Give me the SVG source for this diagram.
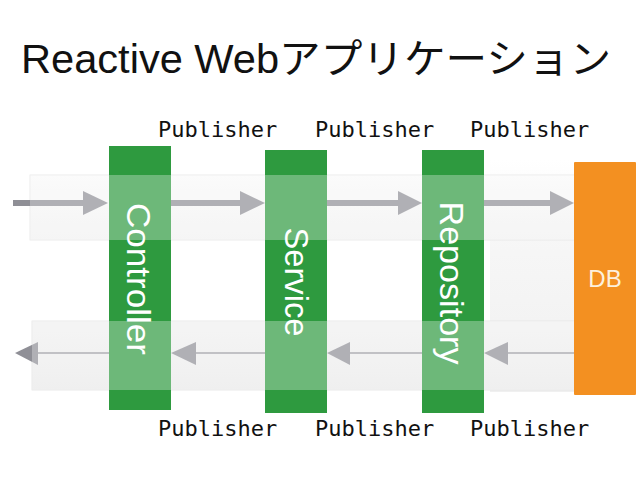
<svg xmlns="http://www.w3.org/2000/svg" width="638" height="479" viewBox="0 0 638 479">
  <defs>
    <linearGradient id="gTop" x1="0" y1="0" x2="0" y2="1">
      <stop offset="0" stop-color="#f9f9f9"/>
      <stop offset="1" stop-color="#f1f1f1"/>
    </linearGradient>
    <linearGradient id="gBot" x1="0" y1="0" x2="0" y2="1">
      <stop offset="0" stop-color="#f0f0f0"/>
      <stop offset="1" stop-color="#e9e9e9"/>
    </linearGradient>
    <linearGradient id="gSide" x1="0" y1="0" x2="0" y2="1">
      <stop offset="0" stop-color="#ffffff"/>
      <stop offset="0.3" stop-color="#f7f7f7"/>
      <stop offset="1" stop-color="#f0f0f0"/>
    </linearGradient>
  </defs>
  <style>
    .thick { stroke: #8f8f96; stroke-width: 6; fill: none; }
    .thin { stroke: #8f8f96; stroke-width: 1.5; fill: none; }
    .head { fill: #8f8f96; }
    .bar { fill: #2e9a3f; }
    .db { fill: #f39021; }
    .overlay { fill: #ffffff; fill-opacity: 0.3; }
    .pub { font-family: "DejaVu Sans Mono", monospace; font-size: 22px; fill: #111; }
    .vlabel { font-family: "Liberation Sans", Arial, sans-serif; font-size: 33px; fill: #ffffff; text-anchor: middle; }
    .title { font-family: "Liberation Sans", "Noto Sans CJK JP", sans-serif; font-size: 40px; fill: #111; }
  </style>
  <rect width="638" height="479" fill="#ffffff"/>
  <!-- background bands -->
  <rect x="490" y="160" width="90" height="232" fill="url(#gSide)"/>
  <rect x="30" y="175" width="548" height="65" fill="url(#gTop)" stroke="#e6e6e6" stroke-width="0.8"/>
  <rect x="32" y="321" width="546" height="69" fill="url(#gBot)" stroke="#e3e3e3" stroke-width="0.8"/>

  <g id="connectors">
    <line class="thick" x1="13" y1="203" x2="86" y2="203"/>
    <polygon class="head" points="83,191 108,203 83,215"/>
    <line class="thick" x1="171" y1="203" x2="242" y2="203"/>
    <polygon class="head" points="240,191 265,203 240,215"/>
    <line class="thick" x1="327" y1="203" x2="400" y2="203"/>
    <polygon class="head" points="398,191 422,203 398,215"/>
    <line class="thick" x1="484" y1="203" x2="552" y2="203"/>
    <polygon class="head" points="550,191 574,203 550,215"/>

    <line class="thin" x1="109" y1="353" x2="36" y2="353"/>
    <polygon class="head" points="38,342 15,353 38,365"/>
    <line class="thin" x1="265" y1="353" x2="194" y2="353"/>
    <polygon class="head" points="196,342 171,353 196,365"/>
    <line class="thin" x1="422" y1="353" x2="348" y2="353"/>
    <polygon class="head" points="350,342 327,353 350,365"/>
    <line class="thin" x1="574" y1="353" x2="506" y2="353"/>
    <polygon class="head" points="508,342 484,353 508,365"/>
  </g>

  <g id="controller">
    <rect class="bar" x="109" y="146" width="62" height="264"/>
  </g>
  <g id="service">
    <rect class="bar" x="265" y="150" width="62" height="263"/>
  </g>
  <g id="repository">
    <rect class="bar" x="422" y="150" width="62" height="263"/>
  </g>
  <g id="db">
    <rect class="db" x="574" y="162" width="62" height="233" rx="1"/>
    <text x="605" y="287" font-family="Liberation Sans, Arial, sans-serif" font-size="24" fill="#fdf0dc" text-anchor="middle">DB</text>
  </g>

  <!-- translucent band overlays -->
  <rect class="overlay" x="30" y="175" width="544" height="65"/>
  <rect class="overlay" x="32" y="321" width="542" height="69"/>

  <text class="vlabel" transform="translate(127,279) rotate(90)" textLength="152" lengthAdjust="spacingAndGlyphs">Controller</text>
  <text class="vlabel" transform="translate(285,282) rotate(90)" textLength="109" lengthAdjust="spacingAndGlyphs">Service</text>
  <text class="vlabel" transform="translate(440,283) rotate(90)" textLength="163" lengthAdjust="spacingAndGlyphs">Repository</text>

  <text class="pub" x="158" y="137">Publisher</text>
  <text class="pub" x="315" y="137">Publisher</text>
  <text class="pub" x="470" y="137">Publisher</text>
  <text class="pub" x="158" y="436">Publisher</text>
  <text class="pub" x="315" y="436">Publisher</text>
  <text class="pub" x="470" y="436">Publisher</text>

  <text class="title" x="21" y="73" textLength="590" lengthAdjust="spacingAndGlyphs">Reactive Webアプリケーション</text>
</svg>
